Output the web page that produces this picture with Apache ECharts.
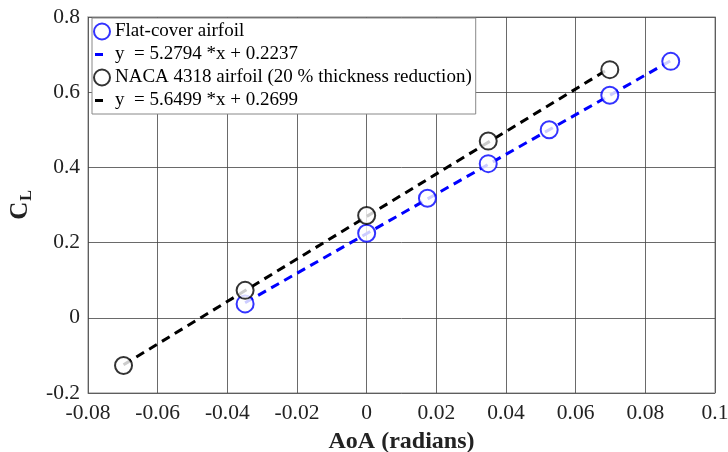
<!DOCTYPE html>
<html>
<head>
<meta charset="utf-8">
<script src="https://cdn.jsdelivr.net/npm/echarts@6/dist/echarts.min.js"></script>
<style>
  html, body { margin: 0; padding: 0; background: #fff; }
  #main { width: 728px; height: 452px; }
</style>
</head>
<body>
<div id="main"></div>
<script>
// measured points (AoA in radians, lift coefficient)
var flatAoa = [-0.0349, 0, 0.01745, 0.0349, 0.0524, 0.0698, 0.0873];
var flatCl = [0.037, 0.225, 0.318, 0.410, 0.500, 0.592, 0.682];
var nacaAoa = [-0.0698, -0.0349, 0, 0.0349, 0.0698];
var nacaCl = [-0.127, 0.073, 0.272, 0.470, 0.660];

// end points of the two fit lines
var flatFitAoa = [-0.0349, 0.0873];
var flatFitCl = [0.040, 0.684];
var nacaFitAoa = [-0.0698, 0.0698];
var nacaFitCl = [-0.125, 0.664];

var legendNames = [
    'Flat-cover airfoil',
    'y  = 5.2794 *x + 0.2237',
    'NACA 4318 airfoil (20 % thickness reduction)',
    'y  = 5.6499 *x + 0.2699'
];

function pairs(xs, ys) {
    return xs.map(function (x, i) { return [x, ys[i]]; });
}

// short dash for the fit lines in the legend (empty corners keep the 16x16 box)
var dashIcon = 'path://M0,0 L0,0 Z M1,6.5 L9,6.5 L9,9.5 L1,9.5 Z M16,16 L16,16 Z';

var font = 'Liberation Serif';
var myChart = echarts.init(document.getElementById('main'));

var option = {
    backgroundColor: '#fff',
    animation: false,
    grid: {
        left: 88, right: 13, top: 17, bottom: 59,
        containLabel: false,
        outerBoundsMode: 'none',
        show: true, borderColor: '#b0b0b0', borderWidth: 1.5
    },
    legend: {
        orient: 'vertical',
        left: 92, top: 18,
        itemGap: 4,
        itemWidth: 16, itemHeight: 16,
        padding: [4, 4, 4, 1],
        backgroundColor: '#fff',
        borderColor: '#888',
        borderWidth: 1,
        textStyle: { fontFamily: font, fontSize: 19, color: '#000' },
        data: [
            { name: legendNames[0], icon: 'emptyCircle' },
            { name: legendNames[1], icon: dashIcon },
            { name: legendNames[2], icon: 'emptyCircle' },
            { name: legendNames[3], icon: dashIcon }
        ]
    },
    xAxis: {
        type: 'value',
        min: -0.08, max: 0.1, interval: 0.02,
        name: 'AoA (radians)',
        nameLocation: 'middle',
        nameGap: 37,
        nameTextStyle: { fontFamily: font, fontSize: 24, fontWeight: 'bold', color: '#222' },
        axisLine: { show: false },
        axisTick: { show: false },
        axisLabel: {
            fontFamily: font, fontSize: 21.5, color: '#222', margin: 9,
            formatter: function (v) { return String(Math.round(v * 100) / 100); }
        },
        splitLine: { lineStyle: { color: '#444', width: 0.8 } }
    },
    yAxis: {
        type: 'value',
        min: -0.2, max: 0.8, interval: 0.2,
        name: '{c|C}{l|L}',
        nameLocation: 'middle',
        nameGap: 48,
        nameRotate: 90,
        nameTextStyle: {
            rich: {
                c: { fontFamily: font, fontSize: 25, fontWeight: 'bold', color: '#222' },
                l: { fontFamily: font, fontSize: 16, fontWeight: 'bold', color: '#222', padding: [14, 0, 0, 1] }
            }
        },
        axisLine: { show: false },
        axisTick: { show: false },
        axisLabel: {
            fontFamily: font, fontSize: 21.5, color: '#222', margin: 8,
            formatter: function (v) { return String(Math.round(v * 10) / 10); }
        },
        splitLine: { lineStyle: { color: '#444', width: 0.8 } }
    },
    series: [
        {
            name: legendNames[1],
            type: 'line',
            data: pairs(flatFitAoa, flatFitCl),
            symbol: 'none',
            lineStyle: { color: '#0000ff', width: 3, type: [9, 6] },
            itemStyle: { color: '#0000ff' },
            z: 2
        },
        {
            name: legendNames[3],
            type: 'line',
            data: pairs(nacaFitAoa, nacaFitCl),
            symbol: 'none',
            lineStyle: { color: '#000', width: 3, type: [9, 6] },
            itemStyle: { color: '#000' },
            z: 2
        },
        {
            name: legendNames[0],
            type: 'scatter',
            data: pairs(flatAoa, flatCl),
            symbol: 'emptyCircle',
            symbolSize: 17,
            itemStyle: { color: '#0000ff', borderColor: '#0000ff', borderWidth: 1.2 },
            z: 3
        },
        {
            name: legendNames[2],
            type: 'scatter',
            data: pairs(nacaAoa, nacaCl),
            symbol: 'emptyCircle',
            symbolSize: 17,
            itemStyle: { color: '#000', borderColor: '#000', borderWidth: 1.2 },
            z: 3
        }
    ]
};

myChart.setOption(option);
</script>
</body>
</html>
